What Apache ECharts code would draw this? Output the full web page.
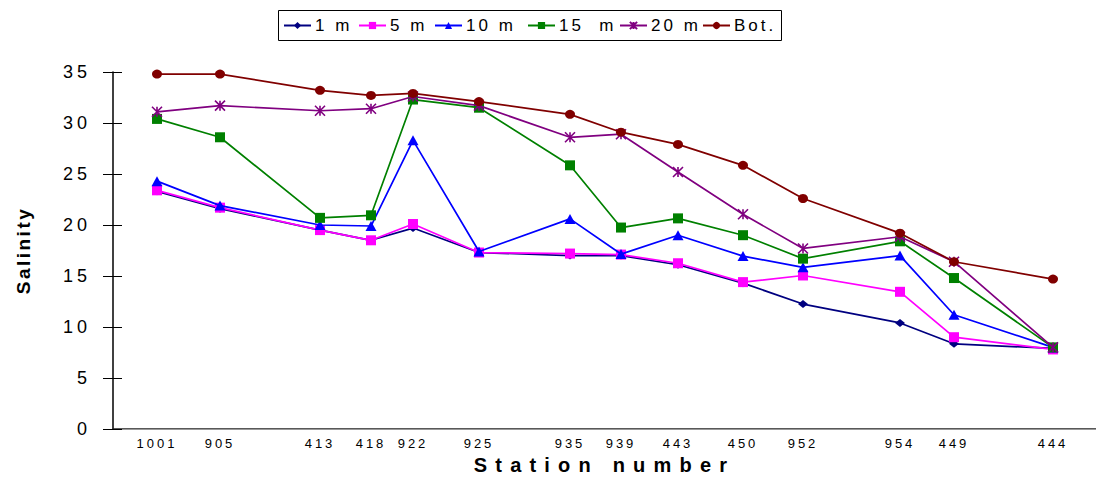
<!DOCTYPE html>
<html>
<head>
<meta charset="utf-8">
<script src="https://cdn.jsdelivr.net/npm/echarts@6/dist/echarts.min.js"></script>
<style>
html, body { margin: 0; padding: 0; background: #fff; }
#chart { width: 1096px; height: 480px; }
#chart text[style*="13px"] { letter-spacing: 3px; }
#chart text[style*="18px"] { letter-spacing: 4px; }
#chart text[style*="17px"] { letter-spacing: 3px; }
#chart text[style*="19px"] { letter-spacing: 2.5px; }
#chart text[style*="20px"] { letter-spacing: 8.2px; }
</style>
</head>
<body>
<div id="chart"></div>
<script>
// Stations along the transect (label, distance along transect in arbitrary km)
const stations = ['1001','905','413','418','922','925','935','939','443','450','952','954','449','444'];
const stationDistance = [44, 107, 207, 258, 300, 366, 457, 508, 565, 630, 690, 787, 841, 940];
const transectLength = 983;

const seriesNames = ['1 m', '5 m', '10 m', '15  m', '20 m', 'Bot.'];
const sal1m  = [23.3, 21.6, 19.5, 18.5, 19.7, 17.3, 17.0, 17.0, 16.1, 14.3, 12.25, 10.4, 8.35, 7.9];
const sal5m  = [23.4, 21.7, 19.5, 18.5, 20.1, 17.3, 17.2, 17.1, 16.25, 14.4, 15.05, 13.45, 9.0, 7.8];
const sal10m = [24.3, 21.9, 20.0, 19.9, 28.3, 17.4, 20.6, 17.15, 19.0, 16.95, 15.85, 17.0, 11.2, 8.0];
const sal15m = [30.4, 28.6, 20.7, 20.95, 32.3, 31.5, 25.85, 19.75, 20.65, 19.0, 16.7, 18.4, 14.8, 8.0];
const sal20m = [31.1, 31.7, 31.2, 31.4, 32.6, 31.7, 28.6, 28.9, 25.2, 21.05, 17.7, 18.85, 16.4, 8.0];
const salBot = [34.8, 34.8, 33.2, 32.7, 32.9, 32.1, 30.85, 29.1, 27.9, 25.85, 22.6, 19.2, 16.4, 14.7];

const yTicks = [0, 5, 10, 15, 20, 25, 30, 35];

const FONT = 'Liberation Sans';
const styles = [
  { color: '#000080', symbol: 'diamond', size: [10, 8] },
  { color: '#FF00FF', symbol: 'rect', size: [10, 10] },
  { color: '#0000FF', symbol: 'triangle', size: [11, 10] },
  { color: '#008000', symbol: 'rect', size: [10, 10] },
  { color: '#800080', symbol: 'path://M0,0L10,10M10,0L0,10M5,0L5,10', size: [10, 10], stroke: true },
  { color: '#800000', symbol: 'circle', size: [10, 9] }
];
const allData = [sal1m, sal5m, sal10m, sal15m, sal20m, salBot];

const series = allData.map((vals, i) => ({
  name: seriesNames[i],
  type: 'line',
  data: vals.map((v, j) => [stationDistance[j], v]),
  symbol: styles[i].symbol,
  symbolSize: styles[i].size,
  showAllSymbol: true,
  lineStyle: { color: styles[i].color, width: 1.7 },
  itemStyle: styles[i].stroke
    ? { color: styles[i].color, borderColor: styles[i].color, borderWidth: 1.6 }
    : { color: styles[i].color, borderWidth: 0 },
  emphasis: { disabled: true },
  z: 2 + i
}));

const legendLefts = [283, 358, 434, 527, 619, 702];
const legends = seriesNames.map((n, i) => ({
  data: [n],
  left: legendLefts[i],
  top: 17,
  padding: 0,
  itemWidth: 27,
  itemHeight: 9,
  itemGap: 0,
  selectedMode: false,
  textStyle: { fontFamily: FONT, fontSize: 17, color: '#000', padding: [0, 0, 0, -1] }
}));

const chart = echarts.init(document.getElementById('chart'), null, { renderer: 'svg' });
chart.setOption({
  animation: false,
  backgroundColor: '#fff',
  textStyle: { fontFamily: FONT },
  legend: legends,
  graphic: [{
    type: 'rect',
    shape: { x: 278.5, y: 10.5, width: 503, height: 30 },
    style: { fill: 'none', stroke: '#000', lineWidth: 1 },
    silent: true
  }],
  grid: { left: 113, right: 0, top: 72, bottom: 51, containLabel: false, outerBoundsMode: 'none' },
  xAxis: [{
    type: 'value',
    min: 0,
    max: transectLength,
    name: 'Station number',
    nameLocation: 'middle',
    nameGap: 26,
    nameTextStyle: { fontFamily: FONT, fontSize: 20, fontWeight: 'bold', color: '#000' },
    axisLine: { show: true, onZero: false, lineStyle: { color: '#222', width: 1.6 } },
    axisTick: { show: false },
    splitLine: { show: false },
    axisLabel: {
      customValues: stationDistance,
      formatter: (v) => { const k = stationDistance.indexOf(v); return k >= 0 ? stations[k] : ''; },
      fontFamily: FONT, fontSize: 13, color: '#000', margin: 8
    }
  }, {
    type: 'value',
    position: 'top',
    min: 0,
    max: transectLength,
    axisLine: { show: true, lineStyle: { color: '#999', width: 1.2 } },
    axisTick: { show: false },
    axisLabel: { show: false },
    splitLine: { show: false }
  }],
  yAxis: [{
    type: 'value',
    min: 0,
    max: 35,
    interval: 5,
    name: 'Salinity',
    nameLocation: 'middle',
    nameGap: 80,
    nameRotate: 90,
    nameTextStyle: { fontFamily: FONT, fontSize: 19, fontWeight: 'bold', color: '#000' },
    axisLine: { show: true, lineStyle: { color: '#000', width: 1.5 } },
    axisTick: { show: true, inside: false, length: 10, lineStyle: { color: '#000', width: 1 } },
    axisLabel: {
      customValues: yTicks,
      fontFamily: FONT, fontSize: 18, color: '#000', margin: 22
    },
    splitLine: { show: false }
  }, {
    type: 'value',
    position: 'left',
    min: 0,
    max: 35,
    interval: 5,
    axisLine: { show: false },
    axisTick: { show: true, inside: true, length: 9, lineStyle: { color: '#000', width: 1 } },
    axisLabel: { show: false },
    splitLine: { show: false }
  }],
  series: series
});
</script>
</body>
</html>
